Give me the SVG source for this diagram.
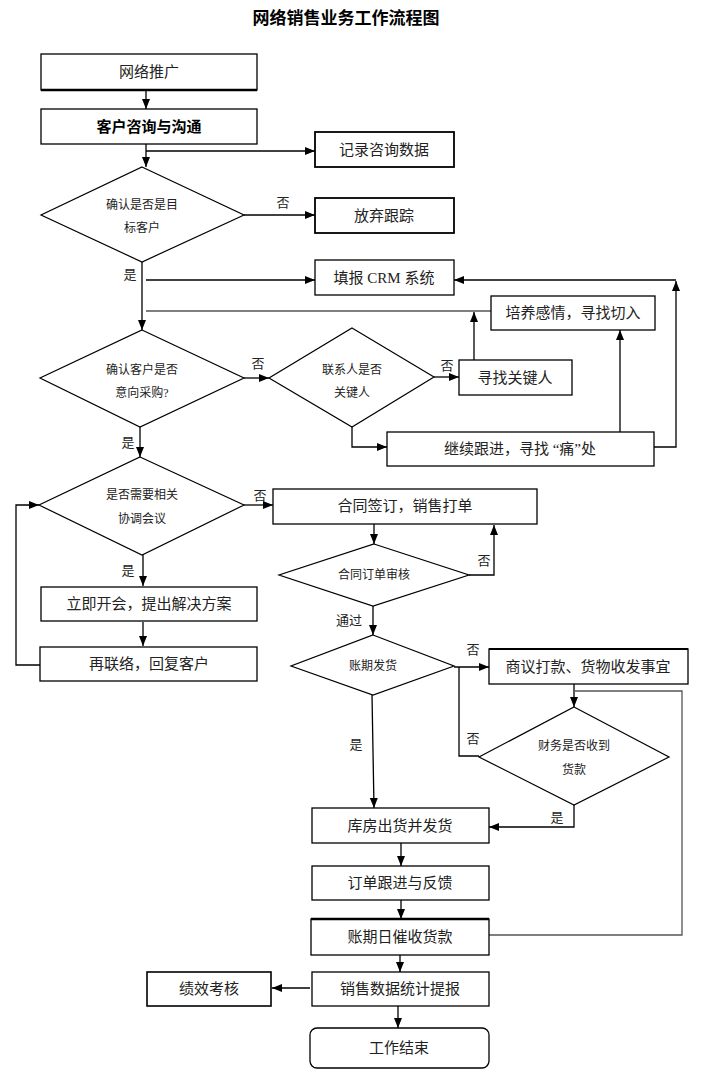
<svg xmlns="http://www.w3.org/2000/svg" width="713" height="1091" viewBox="0 0 713 1091">
<defs>
<marker id="ah" markerUnits="userSpaceOnUse" markerWidth="10" markerHeight="10" viewBox="0 0 10 10" refX="10" refY="5" orient="auto">
<path d="M0,1 L10,5 L0,9 Z" fill="#000"/>
</marker>
</defs>
<style>
.b{fill:#fff;stroke:#000;stroke-width:1.3}
.d{fill:#fff;stroke:#000;stroke-width:1.2}
.t{font-family:"Liberation Serif","Noto Sans CJK SC",serif;font-size:15px;fill:#222;text-anchor:middle;dominant-baseline:central}
.s{font-family:"Liberation Serif","Noto Sans CJK SC",serif;font-size:12px;fill:#222;text-anchor:middle;dominant-baseline:central}
.l{font-family:"Liberation Serif","Noto Sans CJK SC",serif;font-size:13px;fill:#222;text-anchor:middle;dominant-baseline:central}
.c{fill:none;stroke:#000;stroke-width:1.3}
.g{fill:none;stroke:#555;stroke-width:1.3}
.a{marker-end:url(#ah)}
</style>
<rect width="713" height="1091" fill="#fff"/>
<text x="346" y="18" class="t" style="font-size:17px;font-weight:bold;fill:#000">网络销售业务工作流程图</text>

<g id="connectors">
<line class="c a" x1="146" y1="90" x2="146" y2="109"/>
<line class="c a" x1="146" y1="144" x2="146" y2="167"/>
<line class="c a" x1="146" y1="151" x2="315" y2="151"/>
<line class="c a" x1="244" y1="215" x2="315" y2="215"/>
<line class="c a" x1="142" y1="262" x2="142" y2="330"/>
<line class="c a" x1="146" y1="280" x2="315" y2="280"/>
<line class="g" x1="146" y1="311" x2="491" y2="311"/>
<polyline class="c a" points="654,447 676,447 676,281"/>
<line class="c a" x1="676" y1="280" x2="454" y2="280"/>
<line class="c a" x1="474" y1="360" x2="474" y2="312"/>
<line class="c a" x1="620" y1="432" x2="620" y2="330"/>
<line class="c a" x1="244" y1="378" x2="269" y2="378"/>
<line class="c a" x1="434" y1="377" x2="459" y2="377"/>
<polyline class="c a" points="352,427 352,447 387,447"/>
<line class="c a" x1="140" y1="427" x2="140" y2="457"/>
<line class="c a" x1="244" y1="505" x2="273" y2="505"/>
<line class="c a" x1="143" y1="555" x2="143" y2="586"/>
<line class="c a" x1="143" y1="622" x2="143" y2="646"/>
<polyline class="c a" points="40,665 16,665 16,505 39,505"/>
<line class="c a" x1="374" y1="524" x2="374" y2="544"/>
<polyline class="c a" points="469,575 494,575 494,525"/>
<line class="c a" x1="373" y1="606" x2="373" y2="635"/>
<line class="c a" x1="454" y1="667" x2="489" y2="667"/>
<polyline class="c" points="479,756 459,756 459,667"/>
<line class="c a" x1="574" y1="684" x2="574" y2="707"/>
<polyline class="g" points="574,691 682,691 682,935 489,935"/>
<line class="c a" x1="372" y1="695" x2="374" y2="808"/>
<polyline class="c a" points="574,805 574,827 489,827"/>
<line class="c a" x1="401" y1="843" x2="401" y2="866"/>
<line class="c a" x1="401" y1="900" x2="401" y2="919"/>
<line class="c a" x1="400" y1="955" x2="400" y2="972"/>
<line class="c a" x1="310" y1="988" x2="272" y2="988"/>
<line class="c a" x1="398" y1="1006" x2="398" y2="1028"/>
<text x="283" y="202" class="l">否</text>
<text x="130" y="274" class="l">是</text>
<text x="258" y="363" class="l">否</text>
<text x="447" y="365" class="l">否</text>
<text x="128" y="442" class="l">是</text>
<text x="260" y="495" class="l">否</text>
<text x="128" y="570" class="l">是</text>
<text x="484" y="560" class="l">否</text>
<text x="349" y="620" class="l">通过</text>
<text x="473" y="649" class="l">否</text>
<text x="473" y="738" class="l">否</text>
<text x="356" y="744" class="l">是</text>
<text x="557" y="817" class="l">是</text>
</g>

<g id="n1"><rect class="b" x="41" y="54" width="216" height="36"/><path class="c" d="M41,90 H257" style="stroke-width:2.5"/><text x="149" y="72" class="t">网络推广</text></g>
<g id="n2"><rect class="b" x="41" y="109" width="216" height="35"/><text x="149" y="127" class="t" style="font-weight:bold;fill:#000">客户咨询与沟通</text></g>
<g id="n3"><rect class="b" x="315" y="132" width="139" height="35" style="stroke-width:1.8"/><text x="384" y="150" class="t">记录咨询数据</text></g>
<g id="d1"><polygon class="d" points="142,167 244,215 142,262 41,215"/><text x="142" y="205" class="s">确认是否是目</text><text x="142" y="228" class="s">标客户</text></g>
<g id="n4"><rect class="b" x="315" y="198" width="139" height="35" style="stroke-width:1.8"/><text x="384" y="216" class="t">放弃跟踪</text></g>
<g id="n5"><rect class="b" x="315" y="260" width="139" height="35"/><text x="384" y="278" class="t">填报 CRM 系统</text></g>
<g id="n6"><rect class="b" x="491" y="296" width="164" height="34"/><text x="573" y="313" class="t">培养感情，寻找切入</text></g>
<g id="d2"><polygon class="d" points="142,330 244,378 140,427 40,378"/><text x="142" y="370" class="s">确认客户是否</text><text x="142" y="393" class="s">意向采购?</text></g>
<g id="d3"><polygon class="d" points="352,328 434,377 352,427 269,378"/><text x="352" y="370" class="s">联系人是否</text><text x="352" y="393" class="s">关键人</text></g>
<g id="n7"><rect class="b" x="459" y="360" width="113" height="35"/><text x="515" y="378" class="t">寻找关键人</text></g>
<g id="n8"><rect class="b" x="387" y="432" width="267" height="34"/><text x="520" y="449" class="t">继续跟进，寻找 “痛”处</text></g>
<g id="d4"><polygon class="d" points="140,457 244,505 142,555 39,505"/><text x="142" y="495" class="s">是否需要相关</text><text x="142" y="519" class="s">协调会议</text></g>
<g id="n9"><rect class="b" x="273" y="489" width="264" height="35"/><text x="405" y="506" class="t">合同签订，销售打单</text></g>
<g id="n10"><rect class="b" x="41" y="587" width="216" height="34"/><text x="149" y="604" class="t">立即开会，提出解决方案</text></g>
<g id="n11"><rect class="b" x="40" y="647" width="217" height="34"/><text x="149" y="664" class="t">再联络，回复客户</text></g>
<g id="d5"><polygon class="d" points="374,544 469,575 373,606 279,575"/><text x="374" y="575" class="s">合同订单审核</text></g>
<g id="d6"><polygon class="d" points="373,635 454,666 373,695 291,666"/><text x="373" y="666" class="s">账期发货</text></g>
<g id="n12"><rect class="b" x="489" y="649" width="199" height="35"/><path class="c" d="M489,649 H688" style="stroke-width:2.2"/><text x="588" y="667" class="t">商议打款、货物收发事宜</text></g>
<g id="d7"><polygon class="d" points="574,707 669,757 574,805 479,757"/><text x="574" y="746" class="s">财务是否收到</text><text x="574" y="770" class="s">货款</text></g>
<g id="n13"><rect class="b" x="312" y="808" width="177" height="35"/><text x="400" y="826" class="t">库房出货并发货</text></g>
<g id="n14"><rect class="b" x="312" y="866" width="177" height="34"/><text x="400" y="883" class="t">订单跟进与反馈</text></g>
<g id="n15"><rect class="b" x="311" y="919" width="178" height="36"/><path class="c" d="M311,919 H489" style="stroke-width:2.5"/><text x="400" y="937" class="t">账期日催收货款</text></g>
<g id="n16"><rect class="b" x="312" y="972" width="177" height="34"/><text x="400" y="989" class="t">销售数据统计提报</text></g>
<g id="n17"><rect class="b" x="147" y="972" width="124" height="34" style="stroke-width:1.6"/><text x="209" y="989" class="t">绩效考核</text></g>
<g id="n18"><rect class="b" x="310" y="1028" width="179" height="40" rx="7"/><text x="399" y="1048" class="t">工作结束</text></g>
</svg>
